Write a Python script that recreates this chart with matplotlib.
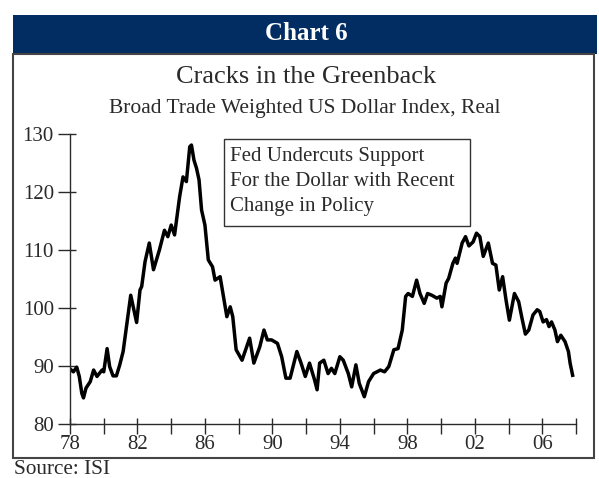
import matplotlib.pyplot as plt
from matplotlib.patches import Rectangle

# Broad trade weighted US dollar index, real
years = [1978.0, 1978.2, 1978.4, 1978.55, 1978.7, 1978.8, 1978.95, 1979.2, 1979.4, 1979.6,
         1979.9, 1980.0, 1980.2, 1980.35, 1980.55, 1980.75, 1980.95, 1981.15, 1981.35, 1981.6,
         1981.75, 1981.95, 1982.15, 1982.25, 1982.45, 1982.7, 1982.95, 1983.3, 1983.6, 1983.8,
         1984.0, 1984.2, 1984.5, 1984.7, 1984.9, 1985.1, 1985.2, 1985.35, 1985.5, 1985.65,
         1985.8, 1986.0, 1986.2, 1986.45, 1986.6, 1986.9, 1987.1, 1987.3, 1987.5, 1987.65,
         1987.85, 1988.2, 1988.65, 1988.9, 1989.25, 1989.5, 1989.7, 1989.95, 1990.3, 1990.55,
         1990.8, 1991.05, 1991.45, 1991.7, 1991.95, 1992.2, 1992.5, 1992.65, 1992.8, 1993.05,
         1993.3, 1993.5, 1993.7, 1994.0, 1994.2, 1994.5, 1994.7, 1994.95, 1995.15, 1995.45,
         1995.7, 1996.0, 1996.4, 1996.65, 1996.9, 1997.2, 1997.45, 1997.7, 1997.9, 1998.05,
         1998.3, 1998.55, 1998.75, 1999.0, 1999.2, 1999.45, 1999.75, 1999.95, 2000.05, 2000.3,
         2000.45, 2000.7, 2000.85, 2000.95, 2001.25, 2001.45, 2001.65, 2001.9, 2002.1, 2002.3,
         2002.5, 2002.8, 2003.05, 2003.25, 2003.45, 2003.65, 2003.85, 2004.05, 2004.35, 2004.6,
         2004.8, 2005.0, 2005.2, 2005.45, 2005.7, 2005.85, 2006.05, 2006.25, 2006.4, 2006.55,
         2006.75, 2006.9, 2007.1, 2007.35, 2007.55, 2007.65, 2007.8]
index = [89.5, 89.0, 89.8, 88.2, 85.3, 84.5, 86.2, 87.3, 89.3, 88.2,
         89.3, 89.0, 93.0, 89.9, 88.3, 88.3, 90.2, 92.5, 96.8, 102.2,
         100.2, 97.5, 103.1, 103.7, 108.0, 111.2, 106.6, 110.0, 113.4, 112.3,
         114.3, 112.6, 119.2, 122.6, 121.8, 127.8, 128.1, 125.5, 124.1, 122.1,
         116.9, 114.3, 108.3, 107.1, 104.8, 105.4, 102.0, 98.5, 100.2, 98.5,
         92.8, 91.0, 94.8, 90.5, 93.3, 96.2, 94.5, 94.5, 93.9, 91.6,
         87.9, 87.9, 92.5, 90.5, 88.2, 90.5, 87.6, 85.9, 90.5, 91.0,
         88.7, 89.6, 88.7, 91.6, 91.0, 88.7, 86.4, 90.2, 87.0, 84.7,
         87.3, 88.7, 89.3, 89.0, 89.9, 92.8, 93.0, 96.2, 102.0, 102.5,
         102.0, 104.8, 102.5, 100.8, 102.5, 102.2, 101.7, 102.0, 100.2, 104.3,
         105.1, 107.7, 108.6, 107.7, 111.2, 112.3, 110.7, 111.4, 112.9, 112.3,
         108.9, 111.2, 107.7, 107.4, 103.1, 105.4, 101.4, 97.9, 102.5, 101.1,
         98.2, 95.5, 96.2, 98.8, 99.7, 99.4, 97.6, 98.0, 96.8, 97.6,
         96.2, 94.2, 95.3, 94.2, 92.5, 90.5, 88.4]

xtick_pos = [1978, 1980, 1982, 1984, 1986, 1988, 1990, 1992, 1994, 1996, 1998, 2000, 2002, 2004, 2006, 2008]
xtick_labels = ["78", "", "82", "", "86", "", "90", "", "94", "", "98", "", "02", "", "06", ""]
ytick_pos = [80, 90, 100, 110, 120, 130]

navy = "#012d62"
ink = "#2a2a2a"
plt.rcParams["font.family"] = ["Liberation Serif", "DejaVu Serif"]

fig = plt.figure(figsize=(5.99, 4.78), dpi=100)
W, H = 599, 478

def fx(px):
    return px / W

def fy(py):
    return 1 - py / H

# banner and frame
fig.patches.append(Rectangle((fx(13), fy(54)), fx(597) - fx(13), fy(15) - fy(54),
                             transform=fig.transFigure, facecolor=navy, edgecolor="none", zorder=0))
fig.patches.append(Rectangle((fx(13), fy(458)), fx(594) - fx(13), fy(54) - fy(458),
                             transform=fig.transFigure, facecolor="none", edgecolor="#444444",
                             linewidth=1.5, zorder=0))
fig.text(fx(306), fy(34), "Chart 6", color="white", fontsize=18, fontweight="bold",
         ha="center", va="center")
fig.text(fx(306), fy(77), "Cracks in the Greenback", fontsize=19, ha="center", va="center",
         color=ink)
fig.text(fx(305), fy(108), "Broad Trade Weighted US Dollar Index, Real", fontsize=15.5,
         ha="center", va="center", color=ink)
fig.text(fx(14), fy(470), "Source: ISI", fontsize=15.3, ha="left", va="center", color=ink)

ax = fig.add_axes([fx(70), fy(424), fx(576) - fx(70), fy(134) - fy(424)])
ax.plot(years, index, color="black", linewidth=2.5, solid_joinstyle="round")
ax.set_xlim(1978, 2008)
ax.set_ylim(80, 130)
ax.set_xticks(xtick_pos)
ax.set_xticklabels(xtick_labels)
ax.set_yticks(ytick_pos)
# inner stubs of the crossing ticks
ax.xaxis.remove_overlapping_locs = False
ax.yaxis.remove_overlapping_locs = False
ax.set_xticks(xtick_pos, minor=True)
ax.set_yticks(ytick_pos, minor=True)
for s in ["top", "right"]:
    ax.spines[s].set_visible(False)
for s in ["left", "bottom"]:
    ax.spines[s].set_linewidth(1.0)
    ax.spines[s].set_color(ink)
ax.tick_params(axis="y", which="major", direction="out", length=8.6, width=1.0,
               labelsize=15, pad=3, colors=ink)
ax.tick_params(axis="x", which="major", direction="out", length=7.2, width=1.0,
               labelsize=15, pad=1, colors=ink)
ax.tick_params(axis="both", which="minor", direction="in", length=4, width=1.0, colors=ink,
               labelleft=False, labelbottom=False)
ax.patch.set_alpha(0)

# annotation box
fig.patches.append(Rectangle((fx(224), fy(226)), fx(470) - fx(224), fy(139) - fy(226),
                             transform=fig.transFigure, facecolor="white", edgecolor="#333333",
                             linewidth=1.0, zorder=5))
for i, line in enumerate(["Fed Undercuts Support", "For the Dollar with Recent",
                          "Change in Policy"]):
    fig.text(fx(230), fy(156 + i * 25.5), line, fontsize=15, ha="left", va="center",
             color=ink, zorder=6)

fig.savefig("out.png", dpi=100)
